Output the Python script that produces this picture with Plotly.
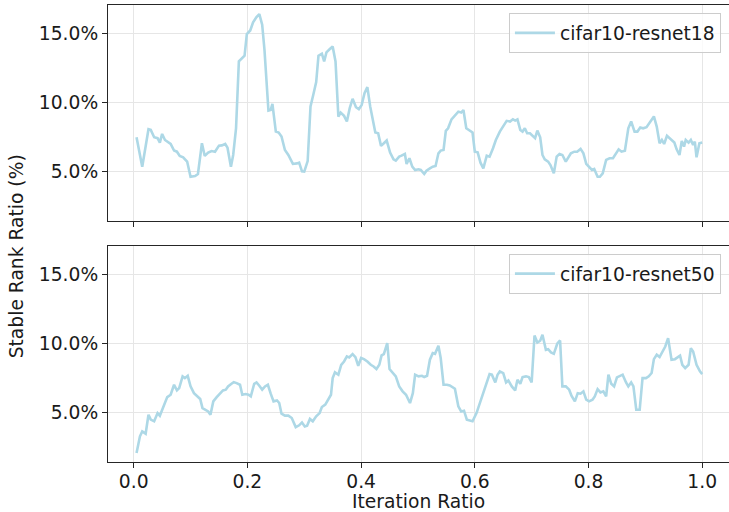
import plotly.graph_objects as go

# ---- data: cifar10-resnet18 (top panel) ----
r18_x = [0.005, 0.015, 0.026, 0.030, 0.036, 0.042, 0.046, 0.050, 0.055, 0.065,
         0.071, 0.076, 0.081, 0.087, 0.094, 0.100, 0.108, 0.113, 0.120, 0.125,
         0.131, 0.137, 0.143, 0.150, 0.155, 0.161, 0.165, 0.171, 0.175, 0.180,
         0.185, 0.190, 0.195, 0.199, 0.205, 0.210, 0.216, 0.221, 0.226, 0.230,
         0.237, 0.241, 0.244, 0.250, 0.255, 0.260, 0.266, 0.272, 0.280, 0.287,
         0.291, 0.296, 0.300, 0.306, 0.311, 0.316, 0.321, 0.325, 0.331, 0.335,
         0.339, 0.345, 0.350, 0.355, 0.360, 0.364, 0.370, 0.375, 0.380, 0.385,
         0.391, 0.396, 0.401, 0.406, 0.411, 0.416, 0.420, 0.425, 0.430, 0.435,
         0.440, 0.445, 0.451, 0.457, 0.461, 0.467, 0.471, 0.477, 0.480, 0.485,
         0.490, 0.495, 0.501, 0.505, 0.511, 0.515, 0.521, 0.526, 0.531, 0.536,
         0.540, 0.545, 0.549, 0.553, 0.559, 0.565, 0.571, 0.576, 0.580, 0.585,
         0.590, 0.596, 0.600, 0.605, 0.610, 0.615, 0.621, 0.626, 0.632, 0.637,
         0.644, 0.650, 0.656, 0.662, 0.667, 0.671, 0.675, 0.680, 0.684, 0.688,
         0.692, 0.697, 0.702, 0.706, 0.710, 0.715, 0.719, 0.723, 0.729, 0.733,
         0.739, 0.744, 0.749, 0.754, 0.760, 0.765, 0.769, 0.775, 0.780, 0.786,
         0.791, 0.796, 0.801, 0.806, 0.810, 0.816, 0.820, 0.825, 0.831, 0.837,
         0.843, 0.848, 0.853, 0.858, 0.864, 0.870, 0.875, 0.881, 0.886, 0.891,
         0.896, 0.902, 0.908, 0.915, 0.920, 0.925, 0.929, 0.933, 0.938, 0.942,
         0.946, 0.951, 0.955, 0.960, 0.964, 0.968, 0.971, 0.976, 0.980, 0.984,
         0.987, 0.990, 0.995, 1.000]
r18_y = [7.49, 5.35, 8.07, 8.02, 7.49, 7.42, 7.10, 7.73, 7.29, 7.00,
         6.52, 6.44, 6.13, 6.03, 5.72, 4.62, 4.67, 4.82, 7.05, 6.13,
         6.37, 6.49, 6.44, 6.88, 6.90, 7.00, 6.73, 5.35, 6.20, 8.14,
         13.00, 13.17, 13.41, 14.99, 15.25, 15.84, 16.23, 16.44, 15.67, 13.85,
         9.43, 9.48, 9.91, 7.90, 7.83, 7.54, 6.56, 6.20, 5.55, 5.59,
         5.64, 5.01, 4.99, 5.76, 9.72, 10.60, 11.50, 13.41, 13.56, 13.00,
         13.66, 13.90, 14.09, 13.00, 8.99, 9.28, 9.04, 8.63, 9.60, 10.28,
         9.67, 9.53, 9.84, 10.69, 11.13, 9.72, 8.87, 7.83, 7.78, 6.86,
         7.05, 7.25, 6.37, 5.88, 5.79, 6.08, 6.15, 6.27, 5.55, 5.96,
         5.35, 5.11, 5.16, 5.11, 4.82, 5.06, 5.23, 5.35, 5.40, 6.32,
         6.52, 6.56, 7.95, 8.14, 8.79, 9.11, 9.35, 9.28, 9.47, 8.14,
         8.02, 7.83, 6.44, 6.39, 5.64, 5.23, 6.15, 6.08, 6.69, 7.29,
         7.90, 8.26, 8.68, 8.63, 8.79, 8.70, 8.79, 8.02, 7.90, 8.14,
         7.78, 7.78, 7.59, 7.42, 7.97, 7.49, 6.20, 5.88, 5.72, 5.47,
         4.87, 6.08, 6.27, 6.20, 5.72, 6.03, 6.32, 6.44, 6.44, 6.64,
         6.32, 5.55, 5.30, 5.11, 5.18, 4.62, 4.62, 4.87, 5.84, 5.96,
         5.96, 6.27, 6.61, 6.44, 6.51, 8.14, 8.63, 7.90, 7.90, 8.20,
         8.14, 8.22, 8.56, 9.00, 8.26, 7.05, 7.29, 7.00, 7.59, 7.42,
         7.29, 7.10, 6.61, 6.20, 7.22, 6.81, 7.29, 7.10, 7.29, 6.93,
         7.17, 6.03, 7.05, 7.10]

# ---- data: cifar10-resnet50 (bottom panel) ----
r50_x = [0.005, 0.008, 0.011, 0.015, 0.019, 0.021, 0.026, 0.030, 0.036, 0.042,
         0.046, 0.051, 0.055, 0.059, 0.065, 0.071, 0.076, 0.080, 0.086, 0.090,
         0.095, 0.100, 0.106, 0.112, 0.117, 0.121, 0.127, 0.131, 0.135, 0.140,
         0.146, 0.152, 0.157, 0.162, 0.166, 0.172, 0.176, 0.181, 0.187, 0.191,
         0.197, 0.202, 0.206, 0.212, 0.216, 0.221, 0.226, 0.231, 0.236, 0.241,
         0.246, 0.252, 0.256, 0.260, 0.266, 0.272, 0.278, 0.285, 0.291, 0.296,
         0.301, 0.305, 0.310, 0.315, 0.321, 0.327, 0.331, 0.337, 0.342, 0.347,
         0.350, 0.354, 0.360, 0.365, 0.370, 0.375, 0.379, 0.385, 0.390, 0.395,
         0.400, 0.405, 0.411, 0.417, 0.422, 0.427, 0.432, 0.436, 0.440, 0.446,
         0.450, 0.456, 0.461, 0.467, 0.473, 0.479, 0.486, 0.491, 0.495, 0.501,
         0.507, 0.511, 0.516, 0.521, 0.526, 0.530, 0.536, 0.540, 0.545, 0.551,
         0.556, 0.565, 0.571, 0.576, 0.581, 0.586, 0.592, 0.596, 0.603, 0.609,
         0.615, 0.620, 0.626, 0.630, 0.636, 0.640, 0.644, 0.650, 0.655, 0.659,
         0.665, 0.671, 0.675, 0.680, 0.684, 0.690, 0.695, 0.700, 0.705, 0.710,
         0.715, 0.719, 0.725, 0.729, 0.734, 0.739, 0.745, 0.750, 0.754, 0.760,
         0.766, 0.770, 0.776, 0.781, 0.786, 0.791, 0.796, 0.801, 0.807, 0.811,
         0.816, 0.821, 0.826, 0.831, 0.835, 0.840, 0.845, 0.850, 0.854, 0.860,
         0.866, 0.870, 0.875, 0.879, 0.884, 0.890, 0.895, 0.901, 0.906, 0.911,
         0.915, 0.920, 0.925, 0.929, 0.935, 0.940, 0.946, 0.952, 0.961, 0.965,
         0.970, 0.976, 0.980, 0.984, 0.990, 0.996, 1.000]
r50_y = [2.05, 2.77, 3.26, 3.62, 3.50, 3.45, 4.83, 4.47, 4.35, 4.95,
         4.76, 5.31, 5.80, 6.11, 6.28, 7.01, 6.60, 6.77, 7.62, 7.49,
         7.66, 6.89, 6.40, 6.16, 5.97, 5.31, 5.19, 5.07, 4.83, 5.80,
         6.11, 6.40, 6.60, 6.65, 6.89, 7.08, 7.20, 7.13, 7.01, 6.28,
         6.33, 6.28, 6.16, 7.08, 7.18, 6.94, 6.65, 6.89, 7.01, 6.36,
         5.80, 5.87, 5.68, 4.90, 4.76, 4.76, 4.59, 3.93, 4.06, 4.27,
         3.98, 4.03, 4.52, 4.35, 4.71, 4.95, 5.39, 5.56, 5.92, 6.28,
         7.49, 7.91, 7.74, 8.46, 8.70, 9.07, 9.00, 9.24, 9.02, 8.39,
         8.95, 8.87, 8.70, 8.46, 8.34, 8.15, 8.46, 9.14, 9.24, 10.04,
         8.15, 7.86, 7.62, 6.89, 6.53, 6.28, 5.68, 6.40, 7.74, 7.62,
         7.66, 7.57, 7.66, 8.83, 9.31, 9.26, 9.84, 8.95, 7.01, 7.01,
         6.96, 6.72, 5.44, 5.07, 5.12, 4.47, 4.42, 4.35, 4.95, 5.68,
         6.36, 7.13, 7.78, 7.74, 7.18, 7.74, 7.98, 7.86, 7.18, 7.32,
         6.89, 6.60, 7.37, 7.08, 7.57, 7.62, 7.57, 7.18, 10.59, 10.08,
         10.21, 10.64, 9.55, 9.60, 9.36, 9.26, 9.99, 10.23, 6.89, 6.89,
         6.65, 6.21, 5.80, 6.40, 6.36, 6.53, 5.92, 5.80, 5.92, 6.16,
         6.69, 6.45, 6.53, 6.16, 7.74, 7.08, 6.89, 7.54, 7.62, 7.74,
         7.18, 6.89, 7.18, 6.89, 5.19, 5.19, 7.49, 7.49, 7.62, 7.86,
         8.87, 9.19, 9.02, 9.31, 9.79, 10.40, 8.83, 8.87, 9.12, 8.46,
         8.22, 8.46, 9.67, 9.43, 8.46, 7.98, 7.78]

series_names = ["cifar10-resnet18", "cifar10-resnet50"]
x_ticks = [0.0, 0.2, 0.4, 0.6, 0.8, 1.0]
x_tick_labels = ["0.0", "0.2", "0.4", "0.6", "0.8", "1.0"]
y_ticks = [5, 10, 15]
y_tick_labels = ["5.0%", "10.0%", "15.0%"]

FONT = "DejaVu Sans"
FS = 18.7
LINE_COLOR = "#add8e6"
AX_COLOR = "#262626"
GRID = "#e6e6e6"

fig = go.Figure()
fig.add_trace(go.Scatter(x=r18_x, y=r18_y, mode="lines", name=series_names[0],
                         line=dict(color=LINE_COLOR, width=2.6),
                         xaxis="x", yaxis="y", legend="legend"))
fig.add_trace(go.Scatter(x=r50_x, y=r50_y, mode="lines", name=series_names[1],
                         line=dict(color=LINE_COLOR, width=2.6),
                         xaxis="x2", yaxis="y2", legend="legend2"))

xr = [-0.0452, 1.0471]
yr = [1.39, 17.1]

common_x = dict(range=xr, tickvals=x_ticks, ticktext=x_tick_labels,
                showgrid=True, gridcolor=GRID, gridwidth=1, zeroline=False,
                showline=True, linecolor=AX_COLOR, linewidth=1.2, mirror=True,
                ticks="outside", ticklen=5, tickwidth=1.2, tickcolor=AX_COLOR,
                tickfont=dict(family=FONT, size=FS, color="#1a1a1a"))
common_y = dict(range=yr, tickvals=y_ticks, ticktext=y_tick_labels,
                showgrid=True, gridcolor=GRID, gridwidth=1, zeroline=False,
                showline=True, linecolor=AX_COLOR, linewidth=1.2, mirror=False,
                ticks="outside", ticklen=5, tickwidth=1.2, tickcolor=AX_COLOR,
                tickfont=dict(family=FONT, size=FS, color="#1a1a1a"))

legend_common = dict(bgcolor="rgba(255,255,255,0.8)", bordercolor="#cccccc",
                     borderwidth=1, xanchor="right", yanchor="top",
                     font=dict(family=FONT, size=FS, color="#1a1a1a"),
                     itemwidth=40, tracegroupgap=0)

fig.update_layout(
    width=729, height=512,
    margin=dict(l=108, r=0, t=5, b=50),
    plot_bgcolor="white", paper_bgcolor="white",
    font=dict(family=FONT, size=FS, color="#1a1a1a"),
    xaxis=dict(domain=[0, 1], anchor="y", showticklabels=False, matches="x2", **common_x),
    yaxis=dict(domain=[0.527, 1.0], anchor="x", **common_y),
    xaxis2=dict(domain=[0, 1], anchor="y2", showticklabels=True,
                ticklabelstandoff=-3, **common_x),
    yaxis2=dict(domain=[0.0, 0.4726], anchor="x2", **common_y),
    legend=dict(x=0.987, y=0.982, **legend_common),
    legend2=dict(x=0.987, y=0.4552, **legend_common),
    showlegend=True,
)

fig.add_annotation(text="Iteration Ratio", xref="paper", yref="paper",
                   x=0.5, y=-0.0864, showarrow=False, yanchor="middle",
                   height=16, valign="middle", borderpad=0,
                   font=dict(family=FONT, size=FS, color="#1a1a1a"))
fig.add_annotation(text="Stable Rank Ratio (%)", xref="paper", yref="paper",
                   x=-0.146, y=0.4508, showarrow=False, textangle=-90,
                   xanchor="center", yanchor="middle",
                   font=dict(family=FONT, size=FS, color="#1a1a1a"))

fig.write_html("out.html", config={"displayModeBar": False},
               post_script="document.body.style.margin='0';document.body.style.overflow='hidden';")
